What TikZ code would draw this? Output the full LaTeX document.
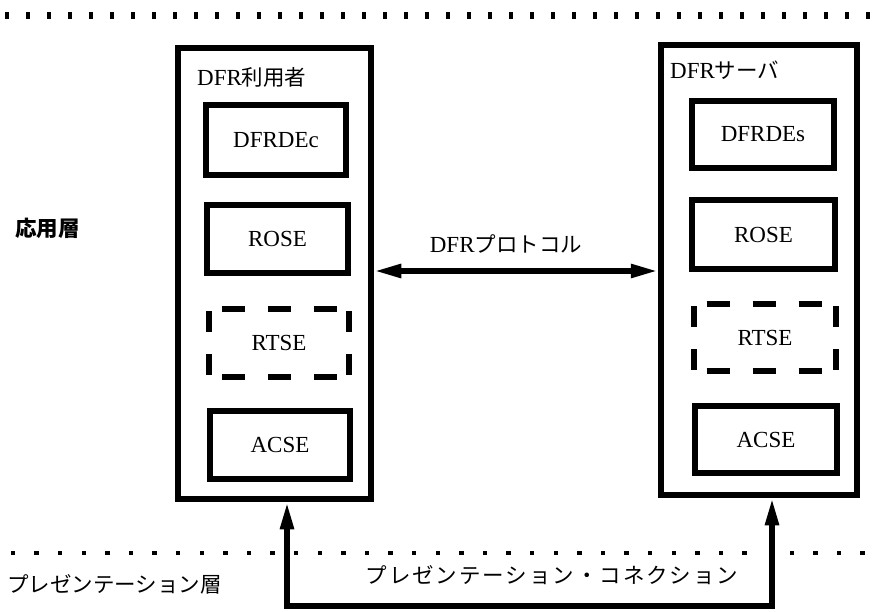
\documentclass[tikz,border=0pt]{standalone}
\usepackage{fontspec}
\setmainfont{Liberation Serif}
\newfontfamily\cjk{Noto Sans CJK JP}
\usetikzlibrary{arrows.meta}
\newcommand\lat{\rmfamily\fontsize{23}{23}\selectfont}
\newcommand\jp[1]{{\cjk\fontsize{21.5}{21.5}\selectfont #1}}
\begin{document}
\begin{tikzpicture}[x=1pt,y=-1pt,
  >={Triangle[length=27pt, width=13pt]},
  outerbox/.style={draw, line width=6.5pt, inner sep=0pt},
  inbox/.style={draw, line width=5.5pt, inner sep=0pt, font=\lat},
  dashbox/.style={inner sep=0pt, outer sep=0pt, font=\lat},
  hdash/.style={line width=5.5pt, dash pattern=on 23pt off 23pt, dash phase=33.5pt},
  vdash/.style={line width=5.5pt, dash pattern=on 21pt off 22pt, dash phase=41pt},
  lbl/.style={inner sep=0pt, font=\lat},
  conn/.style={line width=5.5pt, line join=miter},
  dotmark/.style={fill=black}]
\useasboundingbox (0,0) rectangle (886,612);

% dotted layer boundaries
\foreach \i in {0,...,41} {
  \fill[dotmark] (5.25+21*\i,12.5) rectangle ++(3.5,7);
}
\foreach \i in {0,...,36} {
  \ifnum\i=32\else
    \fill[dotmark] (10.75+23.6*\i,550.5) rectangle ++(4.5,4.5);
  \fi
}

% outer boxes
\node[outerbox, minimum width=193pt, minimum height=451pt] (L) at (274.5,273.5) {};
\node[outerbox, minimum width=196pt, minimum height=450pt] (R) at (759,270) {};

\node[lbl, anchor=west] (Lt) at (197,77) {DFR\jp{利用者}};
\node[lbl, anchor=west] (Rt) at (670,70) {DFR\jp{サーバ}};

% left inner boxes
\node[inbox, minimum width=140pt, minimum height=70pt] (l1) at (276,140) {DFRDEc};
\node[inbox, minimum width=141pt, minimum height=68pt] (l2) at (277.5,239) {ROSE};
\node[dashbox, minimum width=140pt, minimum height=68pt] (l3) at (279,343) {RTSE};
\node[inbox, minimum width=140pt, minimum height=68pt] (l4) at (280,445) {ACSE};

% right inner boxes
\node[inbox, minimum width=142pt, minimum height=67pt] (r1) at (763,134.5) {DFRDEs};
\node[inbox, minimum width=143pt, minimum height=69pt] (r2) at (763.5,234.5) {ROSE};
\node[dashbox, minimum width=142pt, minimum height=67pt] (r3) at (765,337.5) {RTSE};
\node[inbox, minimum width=142pt, minimum height=67pt] (r4) at (766,439.5) {ACSE};

% dashed RTSE frames
\foreach \n in {l3,r3} {
  \draw[hdash] (\n.north west) -- (\n.north east);
  \draw[hdash] (\n.south west) -- (\n.south east);
  \draw[vdash] (\n.north west) -- (\n.south west);
  \draw[vdash] (\n.north east) -- (\n.south east);
}

% layer labels
\node[inner sep=0pt, anchor=west, font=\cjk\bfseries\fontsize{21.5}{21.5}\selectfont] (app) at (15,228) {応用層};
\node[inner sep=0pt, anchor=west, font=\cjk\fontsize{21.5}{21.5}\selectfont] (pres) at (7,584) {プレゼンテーション層};

% DFR protocol
\coordinate (pl) at (L.east |- 0,271);
\coordinate (pr) at (R.west |- 0,271);
\draw[conn, <->] (pl) -- (pr);
\node[lbl] (proto) at (506,244) {DFR\jp{プロトコル}};

% presentation connection
\coordinate (c1) at (287,606);
\coordinate (c2) at (772,606);
\draw[conn, <->] (L.south -| c1) -- (c1) -- (c2) -- (R.south -| c2);
\node[inner sep=0pt, font=\cjk\fontsize{21.5}{21.5}\selectfont\addfontfeature{LetterSpace=9}] (pc) at (552,575) {プレゼンテーション・コネクション};
\end{tikzpicture}
\end{document}
